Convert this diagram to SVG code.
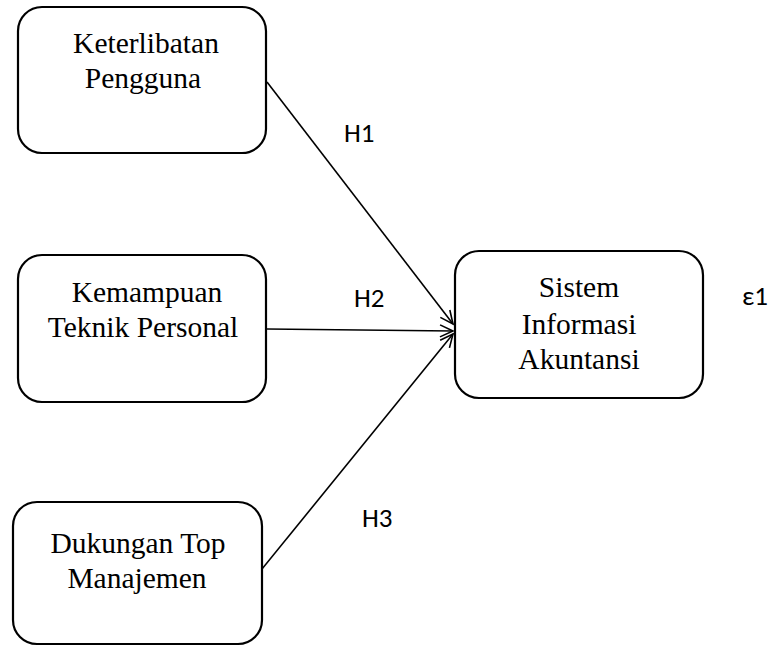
<svg xmlns="http://www.w3.org/2000/svg" width="777" height="646" viewBox="0 0 777 646">
<defs>
<style>
.box{fill:#fff;stroke:#000;stroke-width:2.2}
.t{font-family:"Liberation Serif","Times New Roman",serif;font-size:29.5px;fill:#000;text-anchor:middle}
.h{font-family:Carlito,Lato,"Liberation Sans",sans-serif;font-size:27px;fill:#000}
.c{stroke:#000;stroke-width:1.6;fill:none}
</style>
<marker id="arr" markerUnits="userSpaceOnUse" markerWidth="16" markerHeight="16" refX="14" refY="7" orient="auto" viewBox="0 0 16 14">
<path d="M1,1 L14,7 L1,13" fill="none" stroke="#000" stroke-width="1.6"/>
</marker>
</defs>
<g id="n1">
<rect class="box" x="18" y="7" width="248" height="146" rx="24"/>
<text class="t" x="146" y="53">Keterlibatan</text>
<text class="t" x="143" y="88">Pengguna</text>
</g>
<g id="n2">
<rect class="box" x="18" y="255" width="248" height="147" rx="24"/>
<text class="t" x="147" y="302">Kemampuan</text>
<text class="t" x="143" y="337">Teknik Personal</text>
</g>
<g id="n3">
<rect class="box" x="13" y="502" width="249" height="142" rx="24"/>
<text class="t" x="138" y="553">Dukungan Top</text>
<text class="t" x="137" y="588">Manajemen</text>
</g>
<g id="n4">
<rect class="box" x="455" y="251" width="248" height="147" rx="24"/>
<text class="t" x="579" y="297">Sistem</text>
<text class="t" x="579" y="334">Informasi</text>
<text class="t" x="579" y="369">Akuntansi</text>
</g>
<g id="connectors">
<line class="c" x1="267" y1="82" x2="453" y2="324" marker-end="url(#arr)"/>
<line class="c" x1="267" y1="329" x2="453" y2="331" marker-end="url(#arr)"/>
<line class="c" x1="262" y1="569" x2="453" y2="334" marker-end="url(#arr)"/>
</g>
<g id="labels">
<text class="h" x="344" y="142">H1</text>
<text class="h" x="354" y="307">H2</text>
<text class="h" x="362" y="527">H3</text>
<text class="h" x="742" y="305">ε1</text>
</g>
</svg>
